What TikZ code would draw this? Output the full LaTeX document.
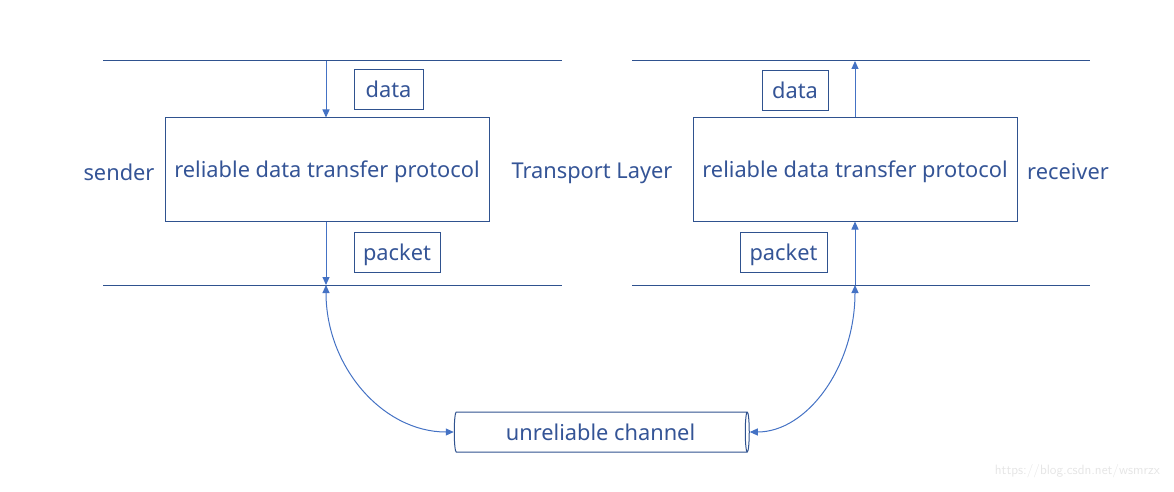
\documentclass[tikz,border=0pt]{standalone}
\usepackage{fontspec}
\setmainfont{Noto Sans}
\usetikzlibrary{shapes.geometric,arrows.meta}
\definecolor{ln}{RGB}{68,114,196}
\definecolor{bd}{RGB}{47,82,143}
\definecolor{tx}{RGB}{52,84,150}
\newcommand{\bigfont}{\fontsize{21.8}{24}\selectfont}
\tikzset{
  layer/.style={draw=bd, line width=1pt},
  lowtext/.style={text height=16pt, text depth=0pt},
  protobox/.style={draw=bd, line width=1pt, minimum width=324pt, minimum height=103pt, text=tx, font=\bigfont, inner sep=0pt, lowtext},
  tag/.style={draw=bd, line width=1pt, text=tx, font=\bigfont, inner sep=0pt, minimum height=40pt, lowtext},
  lbl/.style={text=tx, font=\bigfont, inner sep=0pt},
  conn/.style={draw=ln, line width=1pt, -{Triangle[length=8pt,width=7pt]}},
  biconn/.style={draw=ln, line width=1pt, {Triangle[length=8pt,width=7pt]}-{Triangle[length=8pt,width=7pt]}},
}
\begin{document}
\begin{tikzpicture}[x=1pt,y=-1pt]
\useasboundingbox (0,0) rectangle (1174,492);
% layer lines
\draw[layer] (103,61) -- (562,61);
\draw[layer] (103,285) -- (562,285);
\draw[layer] (632,61) -- (1090,61);
\draw[layer] (632,285) -- (1090,285);
\coordinate (ltop) at (326,61);
\coordinate (lbot) at (326,285);
\coordinate (rtop) at (855,61);
\coordinate (rbot) at (855,285);
% boxes
\node[protobox] (lp) at (327,169.5) {reliable data transfer protocol};
\node[protobox] (rp) at (855,169.5) {reliable data transfer protocol};
\node[tag, minimum width=69pt] (ld) at (388.5,90) {data};
\node[tag, minimum width=86pt] (lk) at (397,252.5) {packet};
\node[tag, minimum width=66pt] (rd) at (795,91) {data};
\node[tag, minimum width=87pt] (rk) at (783.5,252.5) {packet};
\node[lbl] (snd) at (119,172) {sender};
\node[lbl] (tl) at (592,173) {Transport Layer};
\node[lbl] (rcv) at (1068,172) {receiver};
% channel
\node[cylinder, draw=bd, line width=1pt, shape aspect=0.25, minimum width=40pt, minimum height=295pt, inner sep=0pt, text=tx, font=\bigfont, lowtext] (ch) at (600.5,432) {unreliable channel};
% connectors
\draw[conn] (ltop) -- (lp.north -| ltop);
\draw[conn] (lp.south -| lbot) -- (lbot);
\draw[conn] (rp.north -| rtop) -- (rtop);
\draw[conn] (rbot) -- (rp.south -| rbot);
\draw[biconn] (lbot) .. controls (326,367) and (383,432) .. (ch.west);
\draw[biconn] (ch.east) .. controls (807,432) and (855,367) .. (rbot);
% watermark
\node[text=black!10, font=\sffamily\fontsize{13.5}{15}\selectfont, anchor=east, inner sep=0pt] (wm) at (1160,471) {https://blog.csdn.net/wsmrzx};
\end{tikzpicture}
\end{document}
